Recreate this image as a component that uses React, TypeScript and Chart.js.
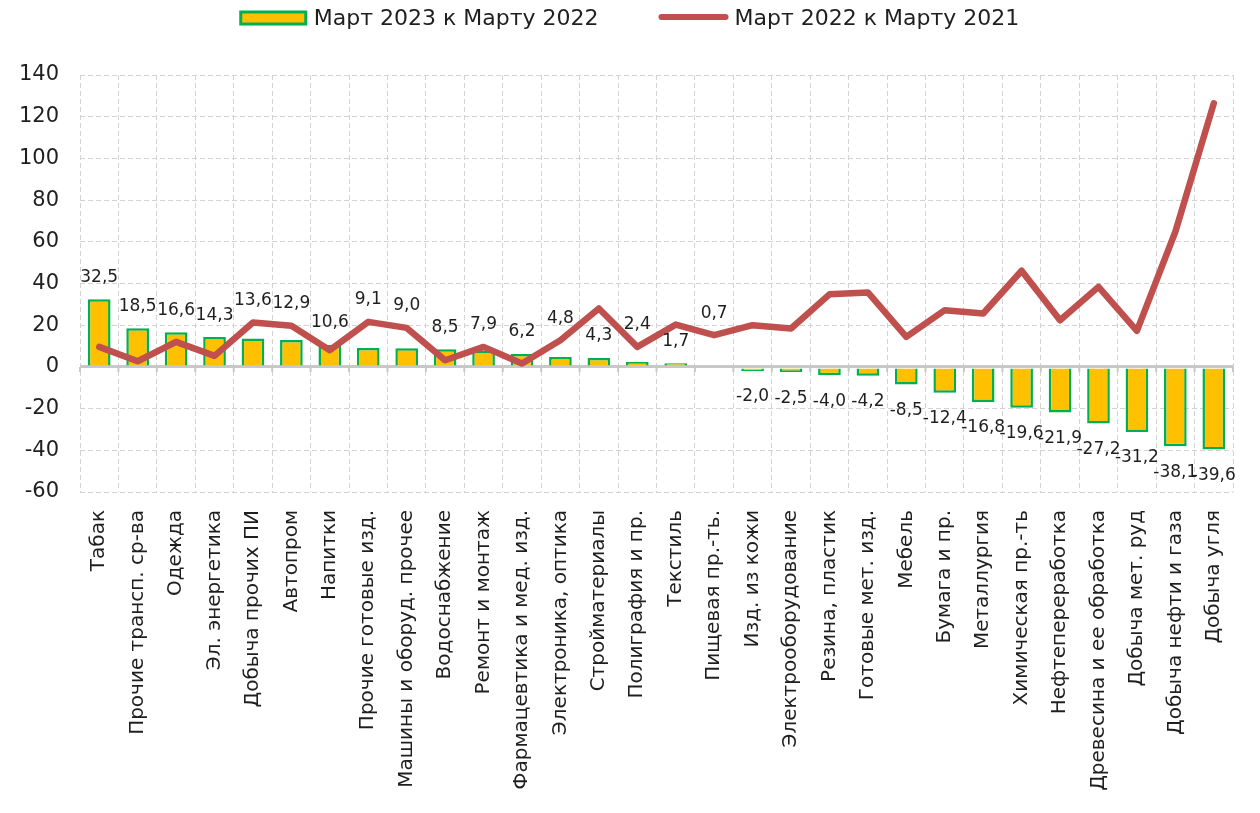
import React, { useEffect, useRef } from 'react';
import { Chart, registerables } from 'chart.js';

Chart.register(...registerables);

const FONT = '"DejaVu Sans", "Liberation Sans", sans-serif';
const TEXT = '#1f1f1f';

const categories = [
  'Табак',
  'Прочие трансп. ср-ва',
  'Одежда',
  'Эл. энергетика',
  'Добыча прочих ПИ',
  'Автопром',
  'Напитки',
  'Прочие готовые изд.',
  'Машины и оборуд. прочее',
  'Водоснабжение',
  'Ремонт и монтаж',
  'Фармацевтика и мед. изд.',
  'Электроника, оптика',
  'Стройматериалы',
  'Полиграфия и пр.',
  'Текстиль',
  'Пищевая пр.-ть.',
  'Изд. из кожи',
  'Электрооборудование',
  'Резина, пластик',
  'Готовые мет. изд.',
  'Мебель',
  'Бумага и пр.',
  'Металлургия',
  'Химическая пр.-ть',
  'Нефтепереработка',
  'Древесина и ее обработка',
  'Добыча мет. руд',
  'Добыча нефти и газа',
  'Добыча угля',
];

const march2023vs2022 = [
  32.5, 18.5, 16.6, 14.3, 13.6, 12.9, 10.6, 9.1, 9.0, 8.5,
  7.9, 6.2, 4.8, 4.3, 2.4, 1.7, 0.7, -2.0, -2.5, -4.0,
  -4.2, -8.5, -12.4, -16.8, -19.6, -21.9, -27.2, -31.2, -38.1, -39.6,
];

const march2022vs2021 = [
  9.6, 2.7, 12.0, 5.3, 21.3, 19.7, 8.0, 21.6, 18.7, 3.2,
  9.6, 1.6, 12.8, 28.0, 9.6, 20.3, 15.2, 20.0, 18.4, 34.8,
  35.7, 14.4, 27.2, 25.6, 46.1, 22.4, 38.4, 17.3, 64.8, 126.4,
];

const legendLabels = ['Март 2023 к Марту 2022', 'Март 2022 к Марту 2021'];

const yMin = -60;
const yMax = 140;
const yStep = 20;

const BAR_FILL = '#FFC000';
const BAR_BORDER = '#00B050';
const LINE_COLOR = '#C0504D';
const GRID = '#d3d3d3';

const fmt = (v: number) => v.toFixed(1).replace('.', ',');

const barLabelsPlugin = {
  id: 'barLabels',
  afterDatasetsDraw(chart: any) {
    const ctx = chart.ctx;
    const y = chart.scales.y;
    const meta = chart.getDatasetMeta(1);
    ctx.save();
    ctx.font = `17px ${FONT}`;
    ctx.fillStyle = TEXT;
    ctx.textAlign = 'center';
    ctx.textBaseline = 'middle';
    meta.data.forEach((el: any, i: number) => {
      const v = march2023vs2022[i];
      const l = march2022vs2021[i];
      let yy: number;
      if (v >= 0) {
        const anchorVal = l > v && l - v < 15 ? l : v;
        yy = y.getPixelForValue(anchorVal) - 22;
      } else {
        yy = y.getPixelForValue(v) + 26;
      }
      ctx.fillText(fmt(v), el.x, yy);
    });
    ctx.restore();
  },
};

const zeroTicksPlugin = {
  id: 'zeroTicks',
  beforeDatasetsDraw(chart: any) {
    const ctx = chart.ctx;
    const x = chart.scales.x;
    const y0 = chart.scales.y.getPixelForValue(0);
    ctx.save();
    ctx.strokeStyle = '#c8c8c8';
    ctx.lineWidth = 2;
    for (let i = 0; i <= categories.length; i++) {
      const px = x.getPixelForTick(Math.min(i, categories.length - 1));
      const half = (x.getPixelForTick(1) - x.getPixelForTick(0)) / 2;
      const bx = i < categories.length ? px - half : px + half;
      ctx.beginPath();
      ctx.moveTo(bx, y0);
      ctx.lineTo(bx, y0 + 5);
      ctx.stroke();
    }
    ctx.restore();
  },
};

const legendPlugin = {
  id: 'customLegend',
  afterDraw(chart: any) {
    const ctx = chart.ctx;
    ctx.save();
    ctx.font = `22px ${FONT}`;
    ctx.textBaseline = 'middle';
    ctx.textAlign = 'left';
    const w1 = ctx.measureText(legendLabels[0]).width;
    const w2 = ctx.measureText(legendLabels[1]).width;
    const m1 = 65, g1 = 8, itemGap = 60, m2 = 70, g2 = 6;
    const total = m1 + g1 + w1 + itemGap + m2 + g2 + w2;
    let x = (chart.width - total) / 2;
    const cy = 18;
    ctx.fillStyle = BAR_FILL;
    ctx.fillRect(x, cy - 6, m1, 12);
    ctx.strokeStyle = BAR_BORDER;
    ctx.lineWidth = 3;
    ctx.strokeRect(x, cy - 6, m1, 12);
    x += m1 + g1;
    ctx.fillStyle = TEXT;
    ctx.fillText(legendLabels[0], x, cy + 1);
    x += w1 + itemGap;
    ctx.strokeStyle = LINE_COLOR;
    ctx.lineWidth = 6;
    ctx.lineCap = 'round';
    ctx.beginPath();
    ctx.moveTo(x + 3, cy - 1);
    ctx.lineTo(x + m2 - 3, cy - 1);
    ctx.stroke();
    x += m2 + g2;
    ctx.fillStyle = TEXT;
    ctx.fillText(legendLabels[1], x, cy + 1);
    ctx.restore();
  },
};

export default function App() {
  const ref = useRef<HTMLCanvasElement>(null);

  useEffect(() => {
    if (!ref.current) return;
    const chart = new Chart(ref.current, {
      type: 'bar',
      data: {
        labels: categories,
        datasets: [
          {
            type: 'line',
            label: legendLabels[1],
            data: march2022vs2021,
            borderColor: LINE_COLOR,
            backgroundColor: LINE_COLOR,
            borderWidth: 6.5,
            pointRadius: 0,
            tension: 0,
            borderCapStyle: 'round',
            borderJoinStyle: 'round',
            order: 0,
          } as any,
          {
            type: 'bar',
            label: legendLabels[0],
            data: march2023vs2022,
            backgroundColor: BAR_FILL,
            borderColor: BAR_BORDER,
            borderWidth: 2.5,
            barPercentage: 0.59,
            categoryPercentage: 1,
            order: 1,
          } as any,
        ],
      },
      options: {
        animation: false,
        responsive: true,
        maintainAspectRatio: false,
        layout: { padding: { top: 75, right: 27, left: 0, bottom: 0 } },
        plugins: {
          legend: { display: false },
          tooltip: { enabled: false },
        },
        scales: {
          x: {
            grid: { color: GRID, lineWidth: 1, drawTicks: false, offset: true },
            border: { display: false, dash: [5, 3] },
            ticks: {
              autoSkip: false,
              maxRotation: 90,
              minRotation: 90,
              padding: 18,
              color: TEXT,
              font: { family: FONT, size: 20 },
            },
            afterFit(scale: any) {
              scale.height = 321;
            },
          },
          y: {
            min: yMin,
            max: yMax,
            ticks: {
              stepSize: yStep,
              padding: 21,
              color: TEXT,
              font: { family: FONT, size: 21 },
              callback: (v: any) => String(v),
            },
            grid: {
              drawTicks: false,
              color: (c: any) => (c.tick && c.tick.value === 0 ? '#c8c8c8' : GRID),
              lineWidth: (c: any) => (c.tick && c.tick.value === 0 ? 3 : 1),
            },
            border: {
              display: false,
              dash: (c: any) => (c.tick && c.tick.value === 0 ? [] : [5, 3]),
            },
            afterFit(scale: any) {
              scale.width = 80;
            },
          },
        },
      },
      plugins: [zeroTicksPlugin, barLabelsPlugin, legendPlugin],
    });
    return () => chart.destroy();
  }, []);

  return (
    <div style={{ position: 'absolute', left: 0, top: 0, width: 1260, height: 813, background: '#fff' }}>
      <canvas ref={ref} />
    </div>
  );
}
